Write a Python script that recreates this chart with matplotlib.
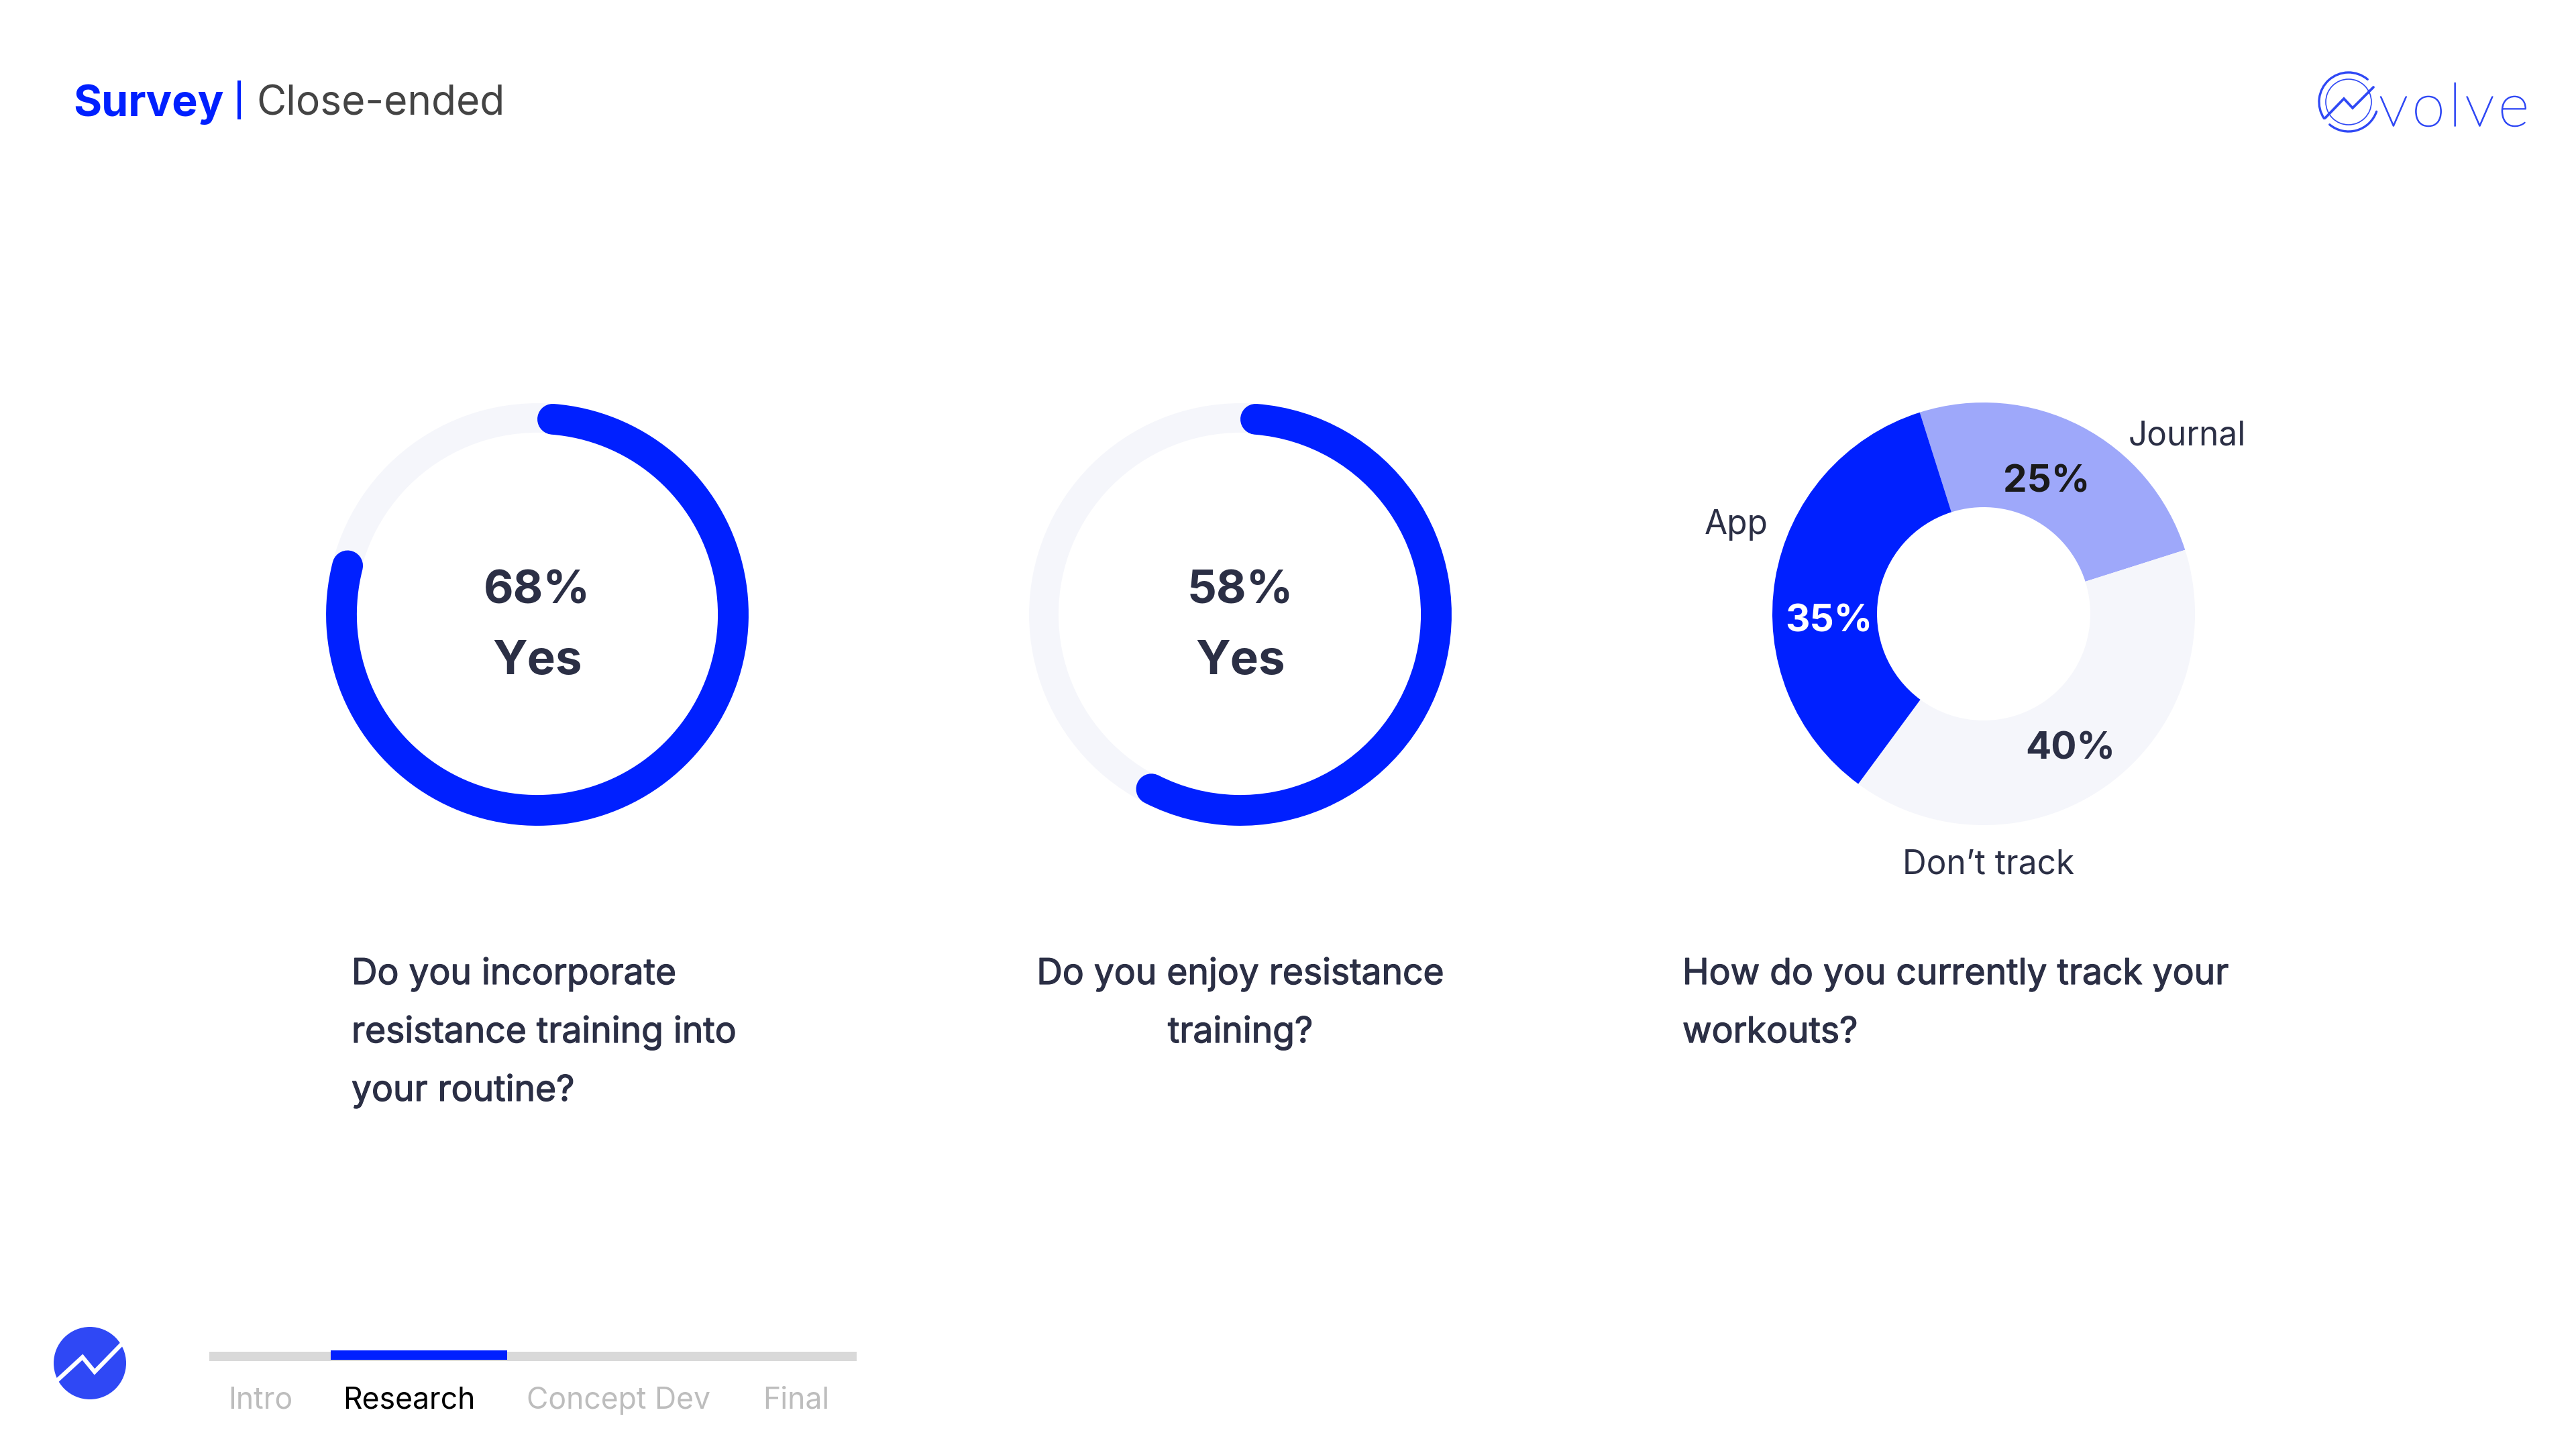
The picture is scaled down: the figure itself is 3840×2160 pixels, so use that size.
import matplotlib.pyplot as plt
import matplotlib.patheffects as pe
from matplotlib.patches import Arc, Circle, Rectangle

BLUE = "#0020FF"
LIGHT_BLUE = "#9EA8FA"
TRACK = "#F5F6FB"
DARK = "#2B2F45"
LOGO_BLUE = "#2F48F5"

# Data
ring_labels = ["68%", "58%"]
ring_arcs = [79, 57.5]  # drawn length of the arcs in the slide
ring_word = "Yes"

donut_names = ["Journal", "Don’t track", "App"]
donut_values = [25, 40, 35]
donut_labels = ["25%", "40%", "35%"]
donut_colors = [LIGHT_BLUE, TRACK, BLUE]
donut_text = ["#1A1A1A", DARK, "white"]

questions = [
    ["Do you incorporate", "resistance training into", "your routine?"],
    ["Do you enjoy resistance", "training?"],
    ["How do you currently track your", "workouts?"],
]
stages = ["Intro", "Research", "Concept Dev", "Final"]
stage_colors = ["#BDBDBD", "black", "#BDBDBD", "#BDBDBD"]

W, H = 3840, 2160
R = 315
plt.rcParams["font.family"] = ["Inter", "DejaVu Sans"]

fig = plt.figure(figsize=(12.8, 7.2), dpi=300, facecolor="white")

# Whole slide axes in pixels, kept on top of the rings
bg = fig.add_axes([0, 0, 1, 1], zorder=5)
bg.set_xlim(0, W)
bg.set_ylim(H, 0)
bg.axis("off")


def sub_axes(cx, cy):
    ax = fig.add_axes([(cx - R) / W, 1 - (cy + R) / H, 2 * R / W, 2 * R / H])
    ax.set_xlim(-R, R)
    ax.set_ylim(-R, R)
    ax.axis("off")
    return ax


def thicker(width, color):
    return [pe.withStroke(linewidth=width, foreground=color)]


# Header
bg.text(109, 173, "Survey", color=BLUE, fontsize=15.5, fontweight="bold", va="baseline")
bg.add_patch(Rectangle((354, 120), 5, 58, color=BLUE, lw=0))
bg.text(382, 172, "Close-ended", color="#444444", fontsize=14.5, va="baseline")

# Logo
lc = (3501, 152)
bg.add_patch(Arc(lc, 88, 88, theta1=-214, theta2=-50, color=LOGO_BLUE, lw=0.8, capstyle="round"))
bg.add_patch(Arc(lc, 88, 88, theta1=19, theta2=130, color=LOGO_BLUE, lw=0.8, capstyle="round"))
bg.add_patch(Arc(lc, 68, 68, theta1=0, theta2=360, color=LOGO_BLUE, lw=0.4))
bg.plot([3466, 3494, 3507, 3538], [176, 147, 161, 130], color=LOGO_BLUE, lw=0.9,
        solid_capstyle="round", solid_joinstyle="miter")
bg.text(3546, 188, "v\u200ao\u200al\u200av\u200ae", color=LOGO_BLUE, fontsize=21.5,
        family=["Lato", "DejaVu Sans"], fontweight="light", va="baseline",
        path_effects=thicker(0.35, LOGO_BLUE))

# Yes rings
for cx, label, arc in zip([801, 1849], ring_labels, ring_arcs):
    ax = sub_axes(cx, 916)
    ax.add_patch(Circle((0, 0), R - 22, fill=False, ec=TRACK, lw=10.5))
    ax.add_patch(Arc((0, 0), 2 * (R - 23), 2 * (R - 23), theta1=90 - 3.6 * arc, theta2=85.5,
                     color=BLUE, lw=11, capstyle="round"))
    bg.text(cx, 882, label, color=DARK, fontsize=16.5, fontweight="bold", ha="center", va="center")
    bg.text(cx, 986, ring_word, color=DARK, fontsize=17, fontweight="bold", ha="center", va="center")

# Donut
ax = sub_axes(2957, 915)
ax.pie(donut_values, colors=donut_colors, startangle=107.6, counterclock=False, radius=R,
       wedgeprops={"width": R - 159, "linewidth": 0})
ax.set_xlim(-R, R)
ax.set_ylim(-R, R)

for (x, y), label, color in zip([(3051, 718), (3086, 1116), (2726, 926)], donut_labels, donut_text):
    bg.text(x, y, label, color=color, fontsize=13.6, fontweight="bold", ha="center", va="center")
for (x, y), name in zip([(3260, 650), (2964, 1289), (2588, 782)], donut_names):
    bg.text(x, y, name, color=DARK, fontsize=11.9, ha="center", va="center")

# Questions
for x, ha, lines in zip([524, 1849, 2508], ["left", "center", "left"], questions):
    for i, line in enumerate(lines):
        bg.text(x, 1467 + i * 87, line, color=DARK, fontsize=12.8, ha=ha, va="baseline",
                path_effects=thicker(0.3, DARK))

# Progress bar
bg.add_patch(Rectangle((312, 2015), 965, 14, color="#D9D9D9", lw=0))
bg.add_patch(Rectangle((493, 2013), 263, 14, color=BLUE, lw=0))
for x, stage, color in zip([340, 511, 785, 1137], stages, stage_colors):
    bg.text(x, 2100, stage, color=color, fontsize=10.7, va="baseline")

# Small icon
bg.add_patch(Circle((134, 2032), 54, color=LOGO_BLUE, lw=0))
bg.plot([86, 123, 141, 182], [2057, 2023, 2045, 2003], color="white", lw=1.5, solid_joinstyle="miter")

fig.savefig("out.png", dpi=300)
